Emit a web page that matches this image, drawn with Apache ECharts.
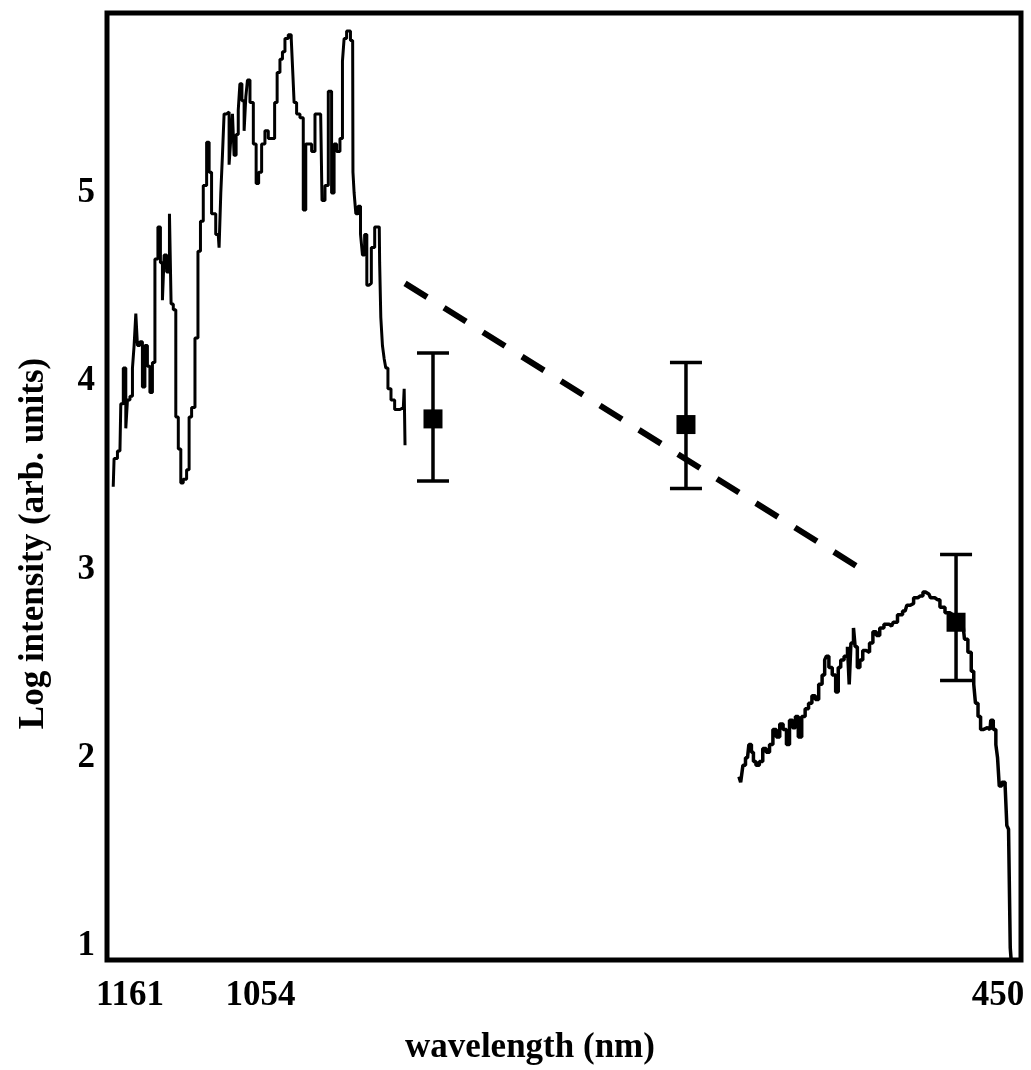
<!DOCTYPE html>
<html>
<head>
<meta charset="utf-8">
<script src="https://cdn.jsdelivr.net/npm/echarts@6/dist/echarts.min.js"></script>
<style>
  html, body { margin: 0; padding: 0; background: #fff; }
  #chart { width: 1031px; height: 1070px; }
</style>
</head>
<body>
<div id="chart"></div>
<script>
// near-IR spectrum (left trace)
const leftWavelength = [1174.7, 1173.3, 1169.2, 1167.8, 1165.1, 1163.7, 1162.4, 1159.6, 1158.3, 1156.9,
  1155.5, 1154.2, 1151.5, 1150.1, 1147.4, 1146.0, 1143.3, 1141.9, 1139.2, 1137.0,
  1135.1, 1133.7, 1132.3, 1129.6, 1127.7, 1126.9, 1124.1, 1122.8, 1120.0, 1118.7,
  1116.0, 1113.2, 1111.9, 1109.1, 1106.4, 1104.2, 1102.3, 1099.6, 1096.8, 1095.5,
  1092.8, 1088.7, 1087.3, 1085.9, 1084.6, 1083.2, 1080.5, 1079.1, 1077.7, 1076.4,
  1075.0, 1073.1, 1071.5, 1070.4, 1068.2, 1066.8, 1065.4, 1064.1, 1061.3, 1058.6,
  1056.7, 1054.5, 1051.8, 1049.1, 1046.3, 1043.6, 1041.4, 1039.5, 1036.8, 1035.4,
  1032.7, 1030.0, 1027.8, 1027.2, 1025.9, 1023.1, 1020.4, 1017.7, 1016.3, 1013.6,
  1010.8, 1008.1, 1004.8, 1002.6, 999.9, 997.2, 994.5, 993.1, 990.4, 987.6,
  986.3, 984.9, 982.2, 978.6, 978.1, 976.7, 975.3, 973.1, 971.2, 969.9,
  967.7, 966.3, 964.4, 962.2, 958.9, 956.8, 956.2, 954.9, 953.5, 952.1,
  950.8, 948.6, 945.8, 942.6, 937.1, 935.7, 935.7];
const leftLogI = [3.44, 3.59, 3.63, 3.88, 4.07, 3.75, 3.90, 3.92, 4.07, 4.19,
  4.36, 4.19, 4.21, 3.97, 4.19, 4.08, 3.94, 4.10, 4.65, 4.82,
  4.63, 4.43, 4.67, 4.58, 4.89, 4.41, 4.38, 3.81, 3.64, 3.46,
  3.48, 3.53, 3.81, 3.86, 4.23, 4.69, 4.85, 5.04, 5.27, 5.11,
  4.89, 4.78, 4.71, 5.00, 5.20, 5.42, 5.43, 5.15, 5.29, 5.42,
  5.20, 5.31, 5.44, 5.58, 5.49, 5.33, 5.51, 5.60, 5.48, 5.26,
  5.05, 5.11, 5.26, 5.33, 5.29, 5.29, 5.48, 5.64, 5.71, 5.75,
  5.82, 5.84, 5.82, 5.62, 5.48, 5.42, 5.40, 4.91, 5.26, 5.26,
  5.22, 5.42, 5.42, 4.96, 5.04, 5.54, 5.00, 5.26, 5.22, 5.29,
  5.70, 5.82, 5.86, 5.81, 5.11, 5.00, 4.89, 4.93, 4.78, 4.67,
  4.78, 4.51, 4.52, 4.71, 4.82, 4.82, 4.63, 4.34, 4.19, 4.12,
  4.07, 3.96, 3.90, 3.85, 3.86, 3.96, 3.66];

// visible spectrum (right trace)
const rightWavelength = [662.2, 659.4, 658.5, 655.2, 653.0, 651.0, 649.7, 646.9, 644.1, 641.3,
  638.5, 635.8, 633.0, 630.2, 627.4, 624.7, 621.9, 619.7, 616.9, 615.0,
  612.2, 609.4, 606.6, 603.8, 601.1, 598.3, 595.5, 592.7, 591.3, 589.9,
  587.2, 584.4, 581.6, 580.2, 577.5, 574.7, 571.9, 571.9, 569.1, 567.7,
  566.4, 564.1, 562.2, 559.4, 556.6, 553.9, 551.1, 548.3, 545.5, 541.4,
  537.2, 534.4, 530.3, 526.1, 523.3, 520.5, 517.8, 513.6, 509.4, 506.7,
  503.9, 499.7, 495.5, 491.4, 487.2, 483.1, 478.9, 476.1, 473.3, 470.6,
  469.2, 467.8, 465.0, 463.6, 460.8, 456.6, 455.3, 452.5, 451.1, 449.7,
  448.3, 445.6, 442.8, 442.8, 440.0, 440.0, 438.6];
const rightLogI = [1.90, 1.87, 1.96, 2.00, 2.07, 2.03, 1.98, 1.96, 1.98, 2.05,
  2.03, 2.07, 2.15, 2.11, 2.18, 2.15, 2.07, 2.20, 2.16, 2.22,
  2.11, 2.22, 2.26, 2.29, 2.33, 2.31, 2.39, 2.44, 2.52, 2.54,
  2.48, 2.44, 2.35, 2.48, 2.52, 2.54, 2.59, 2.39, 2.61, 2.69,
  2.59, 2.48, 2.52, 2.57, 2.56, 2.61, 2.67, 2.65, 2.69, 2.71,
  2.70, 2.72, 2.76, 2.78, 2.81, 2.82, 2.85, 2.86, 2.88, 2.87,
  2.85, 2.84, 2.80, 2.77, 2.76, 2.73, 2.72, 2.63, 2.56, 2.46,
  2.39, 2.29, 2.22, 2.15, 2.16, 2.15, 2.20, 2.15, 2.07, 2.00,
  1.85, 1.87, 1.85, 1.64, 1.62, 0.99, 0.93];

// measured points with error bars
const errWavelength = [912.8, 705.6, 484.4];
const errLogI = [3.80, 3.77, 2.72];
const errLow = [3.47, 3.43, 2.41];
const errHigh = [4.15, 4.10, 3.08];

// dashed trend
const dashWavelength = [935.7, 556.5];
const dashLogI = [4.52, 2.98];

const xTicks = [1161, 1054, 450];
const yTicks = [1, 2, 3, 4, 5];

const font = "Liberation Serif";
const zip = (a, b) => a.map((v, i) => [v, b[i]]);

const chart = echarts.init(document.getElementById("chart"));
chart.setOption({
  animation: false,
  backgroundColor: "#fff",
  grid: {
    left: 107,
    right: 10,
    top: 13,
    bottom: 110,
    show: true,
    borderColor: "#000",
    borderWidth: 5
  },
  xAxis: {
    type: "value",
    inverse: true,
    min: 431.2,
    max: 1179.8,
    name: "wavelength (nm)",
    nameLocation: "middle",
    nameGap: 70,
    nameTextStyle: {
      fontFamily: font,
      fontWeight: "bold",
      fontSize: 35,
      color: "#000",
      padding: [0, 68, 0, 0]
    },
    axisLine: { show: false },
    axisTick: { show: false },
    splitLine: { show: false },
    axisLabel: {
      customValues: xTicks,
      formatter: v => String(v),
      margin: 18,
      fontFamily: font,
      fontWeight: "bold",
      fontSize: 35,
      color: "#000"
    }
  },
  yAxis: {
    type: "value",
    min: 0.926,
    max: 5.956,
    name: "Log intensity (arb. units)",
    nameLocation: "middle",
    nameRotate: 90,
    nameGap: 56,
    nameTextStyle: {
      fontFamily: font,
      fontWeight: "bold",
      fontSize: 35,
      color: "#000",
      padding: [0, 114, 0, 0]
    },
    axisLine: { show: false },
    axisTick: { show: false },
    splitLine: { show: false },
    axisLabel: {
      customValues: yTicks,
      margin: 12,
      fontFamily: font,
      fontWeight: "bold",
      fontSize: 35,
      color: "#000"
    }
  },
  series: [
    {
      type: "line",
      step: "middle",
      data: zip(leftWavelength, leftLogI),
      showSymbol: false,
      lineStyle: { color: "#000", width: 3 }
    },
    {
      type: "line",
      step: "middle",
      data: zip(rightWavelength, rightLogI),
      showSymbol: false,
      lineStyle: { color: "#000", width: 3.5 }
    },
    {
      type: "line",
      data: zip(dashWavelength, dashLogI),
      showSymbol: false,
      lineStyle: { color: "#000", width: 6, type: [26, 20] }
    },
    {
      type: "custom",
      data: errWavelength.map((w, i) => [w, errLow[i], errHigh[i]]),
      renderItem: function (params, api) {
        const lo = api.coord([api.value(0), api.value(1)]);
        const hi = api.coord([api.value(0), api.value(2)]);
        const half = 16;
        const style = { stroke: "#000", lineWidth: 3.5 };
        return {
          type: "group",
          children: [
            { type: "line", shape: { x1: lo[0], y1: lo[1], x2: hi[0], y2: hi[1] }, style: style },
            { type: "line", shape: { x1: lo[0] - half, y1: lo[1], x2: lo[0] + half, y2: lo[1] }, style: style },
            { type: "line", shape: { x1: hi[0] - half, y1: hi[1], x2: hi[0] + half, y2: hi[1] }, style: style }
          ]
        };
      }
    },
    {
      type: "scatter",
      data: zip(errWavelength, errLogI),
      symbol: "rect",
      symbolSize: 19,
      itemStyle: { color: "#000", opacity: 1 }
    }
  ]
});
</script>
</body>
</html>
